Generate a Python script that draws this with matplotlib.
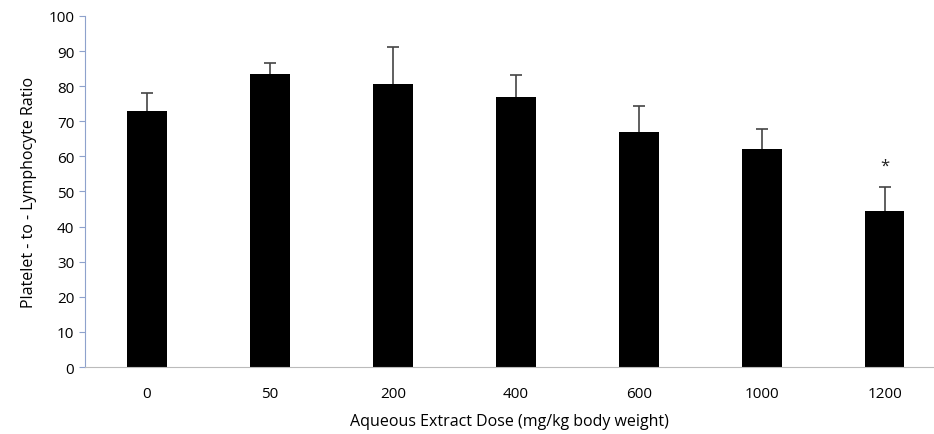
import numpy as np
import matplotlib.pyplot as plt

doses = ['0', '50', '200', '400', '600', '1000', '1200']
plr = [72.9, 83.5, 80.7, 76.9, 67.0, 62.1, 44.4]
err = [5.1, 3.1, 10.4, 6.3, 7.3, 5.7, 6.9]
star_y = 57.5

plt.rcParams['font.family'] = ['Open Sans', 'DejaVu Sans']

fig = plt.figure(figsize=(9.34, 4.35), dpi=100)
ax = fig.add_axes([0.0915, 0.154, 0.9085, 0.807])

x = np.arange(len(doses))
ax.bar(x, plr, width=0.32, color='black', zorder=2)
eb = ax.errorbar(x, plr, yerr=[np.zeros(len(err)), err], fmt='none',
                 ecolor='#444444', elinewidth=1.2, capsize=4, capthick=1.2, zorder=3)
# only the upper cap is wanted
eb[1][0].set_visible(False)
ax.text(x[-1], star_y, '*', ha='center', va='center', fontsize=12, color='#222222')

ax.set_xlim(-0.5, 6.4)
ax.set_ylim(0, 100)
ax.set_yticks(range(0, 101, 10))
ax.set_xticks(x)
ax.set_xticklabels(doses)

for s in ['top', 'right']:
    ax.spines[s].set_visible(False)
ax.spines['left'].set_color('#8ea2cc')
ax.spines['bottom'].set_color('#bbbbbb')
ax.tick_params(axis='y', length=4, color='#8ea2cc', labelsize=11, pad=4)
ax.tick_params(axis='x', length=0, labelsize=11, pad=14)

ax.set_ylabel('Platelet - to - Lymphocyte Ratio', fontsize=11.5, labelpad=8)
ax.set_xlabel('Aqueous Extract Dose (mg/kg body weight)', fontsize=11.5, labelpad=8)

fig.savefig('out.png', dpi=100)
